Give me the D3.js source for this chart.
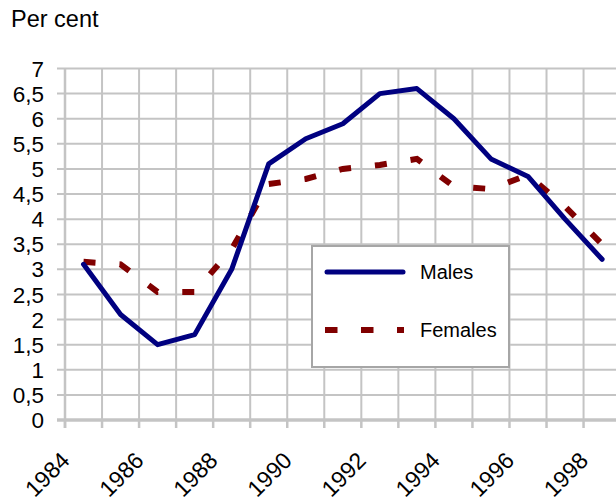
<!DOCTYPE html>
<html><head><meta charset="utf-8">
<script src="https://cdn.jsdelivr.net/npm/d3@7"></script>
<style>
html,body{margin:0;padding:0;background:#fff;}
svg{display:block;font-family:"Liberation Sans",Arial,sans-serif;}
</style></head>
<body>
<script>
const years = [1984,1985,1986,1987,1988,1989,1990,1991,1992,1993,1994,1995,1996,1997,1998];
const males = [3.1,2.1,1.5,1.7,3.0,5.1,5.6,5.9,6.5,6.6,6.0,5.2,4.85,4.0,3.2];
const females = [3.15,3.1,2.55,2.55,3.4,4.7,4.8,5.0,5.08,5.2,4.65,4.6,4.88,4.25,3.5];
const yTicks = [0,0.5,1,1.5,2,2.5,3,3.5,4,4.5,5,5.5,6,6.5,7];
const xLabels = [1984,1986,1988,1990,1992,1994,1996,1998];
const yTitle = "Per cent";
const seriesNames = ["Males","Females"];

(function(){
const W = 616, H = 503;
const pLeft = 65, catW = 37.04, pRight = pLeft + catW*years.length;
const pTop = 68.5, pBottom = 420;

const svg = d3.select("body").append("svg").attr("width", W).attr("height", H);

const x = d3.scaleBand().domain(years).range([pLeft, pRight]).padding(0);
const y = d3.scaleLinear().domain([0,7]).range([pBottom, pTop]);
const grid = "#c4c4c4";

svg.append("g").selectAll("line").data(yTicks).join("line")
  .attr("x1", pLeft-8).attr("x2", pRight)
  .attr("y1", d=>y(d)).attr("y2", d=>y(d))
  .attr("stroke", grid).attr("stroke-width", 2);

const bounds = years.map(d=>x(d)).concat([pRight]);
svg.append("g").selectAll("line").data(bounds.slice(1)).join("line")
  .attr("x1", d=>d).attr("x2", d=>d)
  .attr("y1", pTop).attr("y2", pBottom)
  .attr("stroke", grid).attr("stroke-width", 2);

svg.append("line").attr("x1", pLeft).attr("x2", pLeft).attr("y1", pTop).attr("y2", pBottom+8)
  .attr("stroke", grid).attr("stroke-width", 2.5);
svg.append("line").attr("x1", pLeft-8).attr("x2", pRight).attr("y1", pBottom).attr("y2", pBottom)
  .attr("stroke", grid).attr("stroke-width", 3.5);
svg.append("g").selectAll("line").data(bounds).join("line")
  .attr("x1", d=>d).attr("x2", d=>d).attr("y1", pBottom).attr("y2", pBottom+8)
  .attr("stroke", grid).attr("stroke-width", 2.5);

svg.append("g").selectAll("text").data(yTicks).join("text")
  .attr("x", 44).attr("y", d=>y(d)).attr("dy","0.36em")
  .attr("text-anchor","end").attr("font-size", 22.5).attr("fill","#000")
  .text(d=>String(d).replace(".", ","));

svg.append("g").selectAll("text").data(xLabels).join("text")
  .attr("text-anchor","end").attr("font-size", 23).attr("fill","#000")
  .attr("transform", d=>`translate(${x(d)+6},${462}) rotate(-45)`)
  .text(d=>d);

svg.append("text").attr("x", 11).attr("y", 27).attr("font-size", 23.5).attr("fill","#000").text(yTitle);

const cx = d=>x(d)+x.bandwidth()/2;
const line = vals => d3.line().x((d,i)=>cx(years[i])).y(d=>y(d))(vals);

svg.append("path").attr("d", line(females)).attr("fill","none")
  .attr("stroke","#800000").attr("stroke-width",6).attr("stroke-dasharray","12 24")
  .attr("stroke-linecap","butt");
svg.append("path").attr("d", line(males)).attr("fill","none")
  .attr("stroke","#000080").attr("stroke-width",5).attr("stroke-linejoin","round")
  .attr("stroke-linecap","round");

const lg = svg.append("g");
lg.append("rect").attr("x",312).attr("y",246).attr("width",197).attr("height",121)
  .attr("fill","#fff").attr("stroke","#a6a6a6").attr("stroke-width",2);
lg.append("line").attr("x1",327).attr("x2",403).attr("y1",272).attr("y2",272)
  .attr("stroke","#000080").attr("stroke-width",5).attr("stroke-linecap","round");
lg.append("line").attr("x1",325).attr("x2",404).attr("y1",330).attr("y2",330)
  .attr("stroke","#800000").attr("stroke-width",6).attr("stroke-dasharray","12.5 23.5");
lg.append("text").attr("x",420).attr("y",272).attr("dy","0.36em").attr("font-size",20).text(seriesNames[0]);
lg.append("text").attr("x",420).attr("y",330).attr("dy","0.36em").attr("font-size",20).text(seriesNames[1]);
})();
</script>
</body></html>
